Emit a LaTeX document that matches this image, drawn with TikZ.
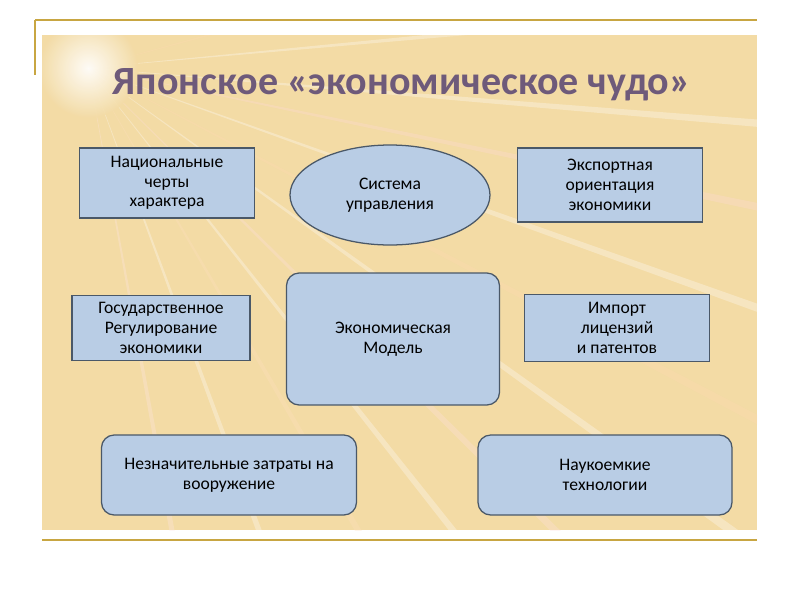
\documentclass[tikz,border=0pt]{standalone}
\usepackage{fontspec}
\setmainfont{Carlito}
\usetikzlibrary{shapes.geometric}
\definecolor{boxfill}{HTML}{B9CDE5}
\definecolor{boxline}{HTML}{4A5868}
\definecolor{sand}{HTML}{F3DBA5}
\definecolor{gold}{HTML}{C8A642}
\definecolor{titlecol}{HTML}{6E5A7A}
\tikzset{
  box/.style={draw=boxline, fill=boxfill, line width=0.9pt, align=center,
    font=\fontsize{12.5}{14}\selectfont, inner sep=2pt},
  rbox/.style={box, rounded corners=9pt}
}
\begin{document}
\begin{tikzpicture}[x=0.025cm,y=-0.025cm]
\useasboundingbox (0,0) rectangle (800,600);
\fill[white] (0,0) rectangle (800,600);
% background panel with rays
\begin{scope}
\clip (42,35) rectangle (757,530);
\fill[sand] (42,35) rectangle (757,530);
\foreach \a/\c in {5/white,12/pink!60,20/white,28/orange!30,36/white,45/pink!50,52/white,60/orange!25,70/white,80/pink!40,-5/white,-15/orange!30}
  \fill[\c, opacity=0.3] (88,68) -- ++(\a-0.6:1100) -- ++(\a+91:12) -- cycle;
\shade[inner color=white, outer color=sand, opacity=0.9] (88,68) circle (50);
\end{scope}
\draw[gold, line width=1pt] (35,20) -- (757,20);
\draw[gold, line width=1pt] (35,20) -- (35,75);
\draw[gold, line width=1pt] (42,540) -- (757,540);
% title
\node[font=\fontsize{28.5}{32}\bfseries\selectfont, text=titlecol] (title) at (402,85) {Японское «экономическое чудо»};
% nodes
\node[box, minimum width=175*0.025cm, minimum height=70*0.025cm] (traits) at (167,183) {Национальные\\черты\\характера};
\node[box, ellipse, minimum width=200*0.025cm, minimum height=100*0.025cm] (mgmt) at (390,195) {Система\\управления};
\node[box, minimum width=185*0.025cm, minimum height=74*0.025cm] (export) at (610,185) {Экспортная\\ориентация\\экономики};
\node[box, minimum width=178*0.025cm, minimum height=65*0.025cm] (state) at (161,328) {Государственное\\Регулирование\\экономики};
\node[rbox, minimum width=213*0.025cm, minimum height=132*0.025cm] (model) at (393,339) {Экономическая\\Модель};
\node[box, minimum width=185*0.025cm, minimum height=67*0.025cm] (import) at (617,328) {Импорт\\лицензий\\и патентов};
\node[rbox, minimum width=255*0.025cm, minimum height=80*0.025cm] (arms) at (229,475) {Незначительные затраты на\\вооружение};
\node[rbox, minimum width=254*0.025cm, minimum height=80*0.025cm] (tech) at (605,475) {Наукоемкие\\технологии};
\end{tikzpicture}
\end{document}
